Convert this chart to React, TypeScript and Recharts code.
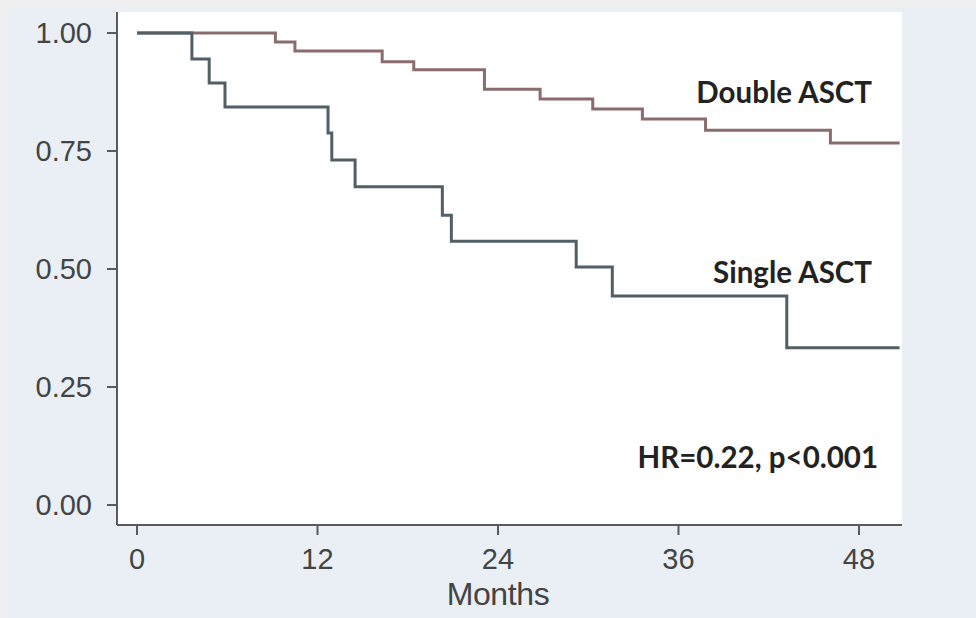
import React from 'react';
import { LineChart, Line, XAxis, YAxis, CartesianGrid, ReferenceDot } from 'recharts';

const doubleMonths = [0, 9.2, 10.5, 16.3, 18.4, 23.1, 26.8, 30.3, 33.6, 37.8, 46.1, 50.7];
const doubleSurv = [1.0, 0.981, 0.962, 0.939, 0.922, 0.881, 0.86, 0.839, 0.818, 0.794, 0.767, 0.767];

const singleMonths = [0, 3.65, 4.8, 5.85, 12.7, 12.95, 14.5, 20.3, 20.9, 29.2, 31.6, 43.2, 50.7];
const singleSurv = [1.0, 0.945, 0.894, 0.843, 0.788, 0.731, 0.674, 0.614, 0.559, 0.504, 0.443, 0.333, 0.333];

const xTicks = [0, 12, 24, 36, 48];
const yTicks = [0, 0.25, 0.5, 0.75, 1];

const doubleData = doubleMonths.map((m, i) => ({ m, s: doubleSurv[i] }));
const singleData = singleMonths.map((m, i) => ({ m, s: singleSurv[i] }));

const AXIS = '#5a5a5a';
const TICK = '#444444';
const TICK_FONT = '"Liberation Sans", Arial, sans-serif';
const ANNOT_FONT = 'Lato, "Open Sans", sans-serif';

const makeText = (label: string) => (p: any) => (
  <text
    x={p.cx}
    y={p.cy}
    textAnchor="end"
    fontFamily={ANNOT_FONT}
    fontWeight={700}
    fontSize={29.5}
    fill="#222"
  >
    {label}
  </text>
);

export default function App() {
  return (
    <div style={{ position: 'fixed', left: 0, top: 0, width: 976, height: 618, background: '#efefef' }}>
      <div style={{ position: 'absolute', left: 8, top: 8, width: 968, height: 610, background: '#e9eff4' }}>
        <LineChart width={968} height={610} margin={{ top: 4, right: 74, bottom: 33, left: 0 }}>
          <CartesianGrid fill="#ffffff" horizontal={false} vertical={false} stroke="none" />
          <XAxis
            type="number"
            dataKey="m"
            domain={[-1.33, 50.86]}
            ticks={xTicks}
            allowDataOverflow
            height={60}
            stroke={AXIS}
            strokeWidth={2}
            tickSize={10}
            tickMargin={13}
            tick={{ fill: TICK, fontSize: 29, fontFamily: TICK_FONT }}
            label={(props: any) => {
              const vb = props.viewBox;
              return (
                <text
                  x={vb.x + (0 + 1.33) / 52.19 * vb.width + 24 * 15.04}
                  y={vb.y + 80}
                  textAnchor="middle"
                  fontFamily={TICK_FONT}
                  fontSize={32}
                  fill={TICK}
                  letterSpacing={-0.4}
                >
                  Months
                </text>
              );
            }}
          />
          <YAxis
            type="number"
            domain={[-0.0424, 1.0445]}
            ticks={yTicks}
            allowDataOverflow
            width={109}
            stroke={AXIS}
            strokeWidth={2}
            tickSize={10}
            tickMargin={15}
            tickFormatter={(v: number) => v.toFixed(2)}
            tick={{ fill: TICK, fontSize: 29, fontFamily: TICK_FONT }}
          />
          <Line
            data={doubleData}
            dataKey="s"
            type="stepAfter"
            stroke="#8a6c6e"
            strokeWidth={3}
            dot={false}
            isAnimationActive={false}
          />
          <Line
            data={singleData}
            dataKey="s"
            type="stepAfter"
            stroke="#515f66"
            strokeWidth={3}
            dot={false}
            isAnimationActive={false}
          />
          <ReferenceDot x={48.87} y={0.852} r={0} shape={makeText('Double ASCT')} />
          <ReferenceDot x={48.87} y={0.47} r={0} shape={makeText('Single ASCT')} />
          <ReferenceDot x={49.27} y={0.078} r={0} shape={makeText('HR=0.22, p<0.001')} />
        </LineChart>
      </div>
    </div>
  );
}
